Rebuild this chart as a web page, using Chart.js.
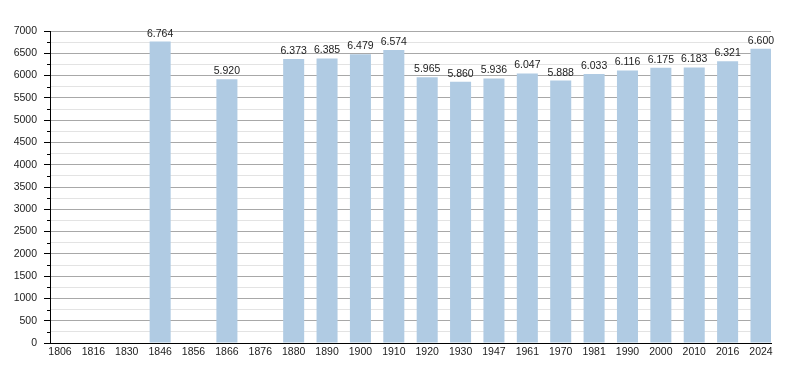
<!DOCTYPE html>
<html>
<head>
<meta charset="utf-8">
<title>Population</title>
<script src="https://cdn.jsdelivr.net/npm/chart.js@4.4.1/dist/chart.umd.min.js"></script>
<style>
    body { margin: 0; background: #fff; }
    #wrap { width: 800px; height: 373px; }
</style>
</head>
<body>
<div id="wrap"><canvas id="chart" width="800" height="373"></canvas></div>
<script>
// Census years and population
const years = ['1806', '1816', '1830', '1846', '1856', '1866', '1876', '1880', '1890', '1900', '1910',
               '1920', '1930', '1947', '1961', '1970', '1981', '1990', '2000', '2010', '2016', '2024'];
const population = [null, null, null, 6764, null, 5920, null, 6373, 6385, 6479, 6574,
                    5965, 5860, 5936, 6047, 5888, 6033, 6116, 6175, 6183, 6321, 6600];
const yMax = 7000;
const yStep = 250;

const FONT = { family: '"Liberation Sans", Arial, sans-serif', size: 10.5 };
const TEXT_COLOR = '#222';

document.addEventListener('DOMContentLoaded', function() {
    initPopulationChart();
});

// 6764 -> "6.764"
function formatValue(v) {
    return String(v).replace(/\B(?=(\d{3})+(?!\d))/g, '.');
}

// Value labels above bars + short minor tick marks on y axis
const decorPlugin = {
    id: 'decor',
    afterDatasetsDraw(chart) {
        const ctx = chart.ctx;
        const meta = chart.getDatasetMeta(0);
        ctx.save();
        ctx.font = FONT.size + 'px ' + FONT.family;
        ctx.fillStyle = TEXT_COLOR;
        ctx.textAlign = 'center';
        ctx.textBaseline = 'alphabetic';
        meta.data.forEach((bar, i) => {
            const raw = chart.data.datasets[0].data[i];
            if (!raw || raw.y == null) return;
            ctx.fillText(formatValue(raw.y), bar.x, bar.y - 5);
        });

        // minor ticks (half length)
        const y = chart.scales.y;
        ctx.strokeStyle = '#000';
        ctx.lineWidth = 1;
        for (let v = yStep; v < yMax; v += 500) {
            const py = Math.round(y.getPixelForValue(v)) + 0.5;
            ctx.beginPath();
            ctx.moveTo(y.right - 3, py);
            ctx.lineTo(y.right, py);
            ctx.stroke();
        }
        ctx.restore();
    }
};

function initPopulationChart() {
    const points = [];
    years.forEach((yr, i) => {
        if (population[i] != null) points.push({ x: i, y: population[i] });
    });

    new Chart(document.getElementById('chart'), {
        type: 'bar',
        data: {
            datasets: [{
                data: points,
                backgroundColor: '#b0cbe3',
                borderWidth: 0,
                categoryPercentage: 1,
                barPercentage: 0.63
            }]
        },
        options: {
            responsive: false,
            animation: false,
            layout: { padding: { top: 31, right: 29, left: 0, bottom: 0 } },
            plugins: {
                legend: { display: false },
                tooltip: { enabled: false }
            },
            scales: {
                x: {
                    type: 'linear',
                    offset: false,
                    min: -0.3,
                    max: years.length - 1 + 0.3,
                    afterBuildTicks: function(scale) {
                        scale.ticks = years.map((_, i) => ({ value: i }));
                    },
                    afterFit: function(scale) { scale.height = 30; },
                    grid: { display: false, drawTicks: false, offset: false },
                    border: { display: true, color: '#000', width: 1 },
                    ticks: {
                        autoSkip: false,
                        maxRotation: 0,
                        padding: 3,
                        color: TEXT_COLOR,
                        font: FONT,
                        callback: function(value) { return years[value] ?? ''; }
                    }
                },
                y: {
                    min: 0,
                    max: yMax,
                    afterFit: function(scale) { scale.width = 50; },
                    grid: {
                        color: function(ctx) {
                            return ctx.tick.value % 500 === 0 ? '#a8a8a8' : '#e3e3e3';
                        },
                        tickColor: function(ctx) {
                            return ctx.tick.value % 500 === 0 ? '#000' : 'rgba(0,0,0,0)';
                        },
                        tickLength: 6
                    },
                    border: { display: true, color: '#000', width: 1 },
                    ticks: {
                        stepSize: yStep,
                        autoSkip: false,
                        padding: 7,
                        color: TEXT_COLOR,
                        font: FONT,
                        callback: function(value) { return value % 500 === 0 ? value : ''; }
                    }
                }
            }
        },
        plugins: [decorPlugin]
    });
}
</script>
</body>
</html>
